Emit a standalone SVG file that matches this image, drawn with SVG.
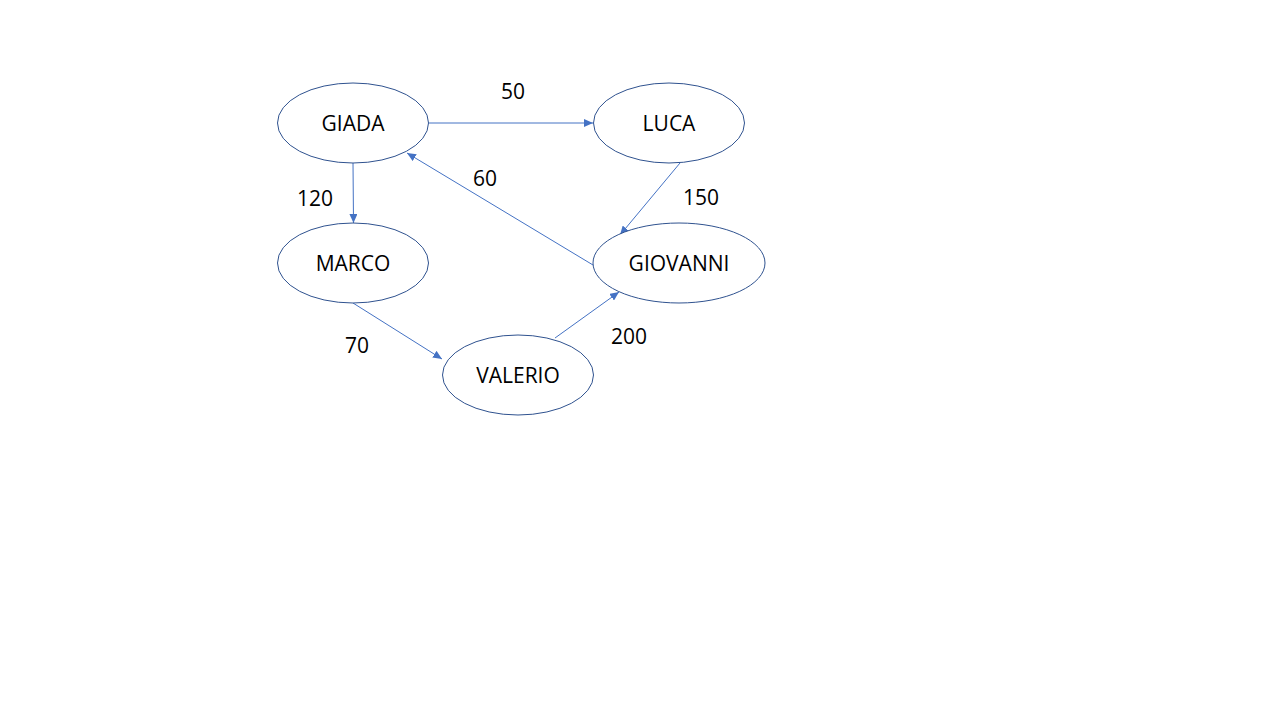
<svg xmlns="http://www.w3.org/2000/svg" width="1280" height="720" viewBox="0 0 1280 720">
<style>
.node ellipse{fill:#fff;stroke:#2F528F;stroke-width:1}
.node text,.lbl{font-family:"Open Sans","Liberation Sans",sans-serif;font-size:21px;fill:#000;text-anchor:middle;dominant-baseline:central}
.edge{stroke:#4472C4;stroke-width:1;fill:none;marker-end:url(#ah)}
</style>
<defs>
<marker id="ah" markerUnits="userSpaceOnUse" markerWidth="10" markerHeight="8" refX="9" refY="4" orient="auto">
<path d="M0,0 L9,4 L0,8 Z" fill="#4472C4"/>
</marker>
</defs>
<rect width="1280" height="720" fill="#fff"/>
<g id="connectors">
<line class="edge" x1="429" y1="123" x2="593" y2="123"/>
<line class="edge" x1="353" y1="163" x2="353.5" y2="223"/>
<line class="edge" x1="680" y1="163" x2="620" y2="235"/>
<line class="edge" x1="593" y1="265" x2="407" y2="153"/>
<line class="edge" x1="353" y1="303" x2="442" y2="359"/>
<line class="edge" x1="555" y1="338" x2="619" y2="292"/>
</g>
<g id="labels">
<text class="lbl" x="513" y="91">50</text>
<text class="lbl" x="315" y="198">120</text>
<text class="lbl" x="485" y="178">60</text>
<text class="lbl" x="701" y="197">150</text>
<text class="lbl" x="357" y="345">70</text>
<text class="lbl" x="629" y="336">200</text>
</g>
<g id="giada" class="node"><ellipse cx="353" cy="123" rx="75.5" ry="40"/><text x="353" y="123">GIADA</text></g>
<g id="luca" class="node"><ellipse cx="669" cy="123" rx="75.5" ry="40"/><text x="669" y="123">LUCA</text></g>
<g id="marco" class="node"><ellipse cx="353" cy="263" rx="75.5" ry="40"/><text x="353" y="263">MARCO</text></g>
<g id="giovanni" class="node"><ellipse cx="679" cy="263" rx="86" ry="40"/><text x="679" y="263">GIOVANNI</text></g>
<g id="valerio" class="node"><ellipse cx="518" cy="375" rx="75.5" ry="40"/><text x="518" y="375">VALERIO</text></g>
</svg>
